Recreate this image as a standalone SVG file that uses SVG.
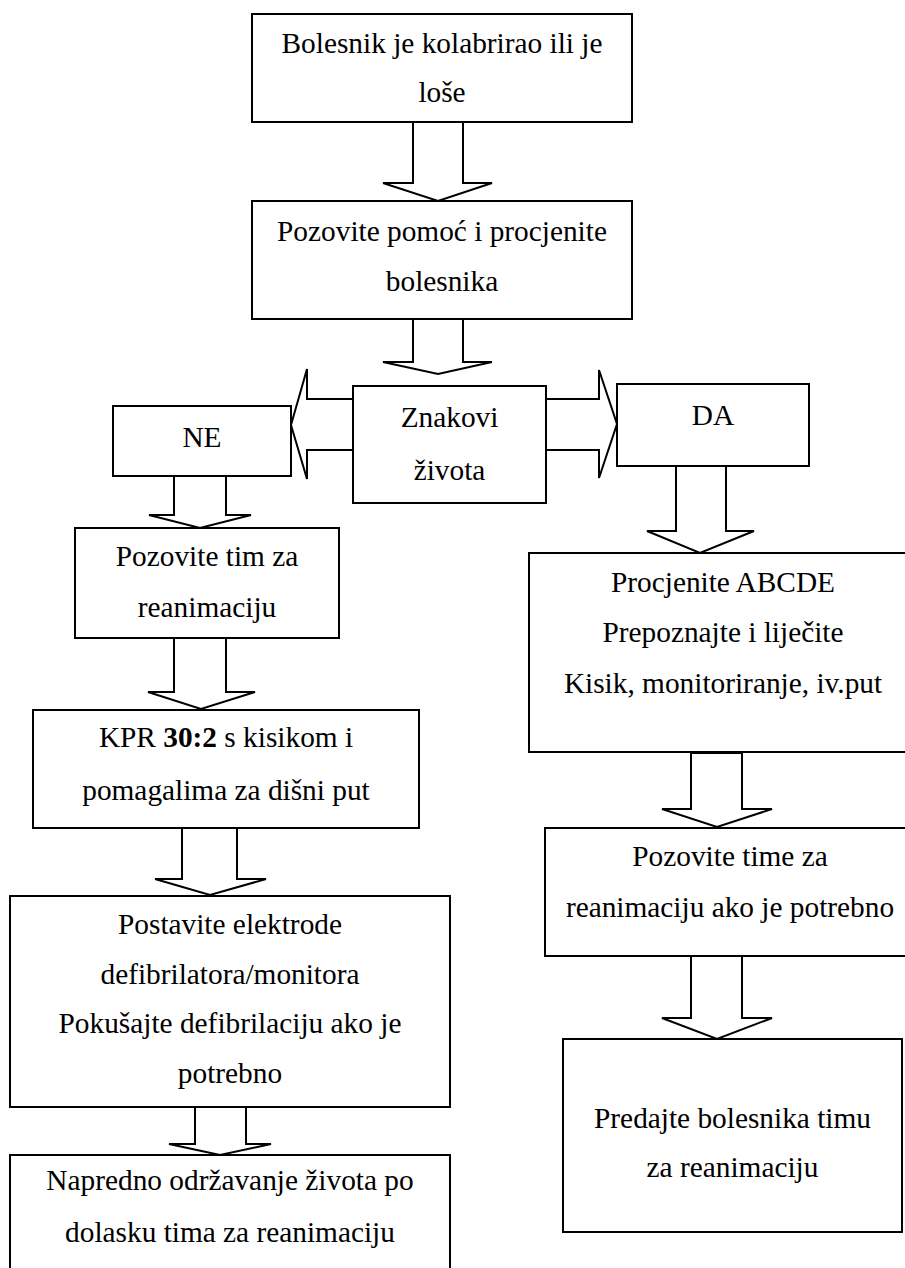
<svg xmlns="http://www.w3.org/2000/svg" width="905" height="1268" viewBox="0 0 905 1268">
<style>
.box{fill:#fff;stroke:#000;stroke-width:2}
.arr{fill:#fff;stroke:#000;stroke-width:2;stroke-linejoin:miter}
text{font-family:"Liberation Serif","Times New Roman",serif;font-size:29.33px;fill:#000;text-anchor:middle}
</style>
<rect width="905" height="1268" fill="#fff"/>
<g id="connectors">
<polygon class="arr" points="413,122 463,122 463,183 492,183 438,201 383,183 413,183"/>
<polygon class="arr" points="413,319 463,319 463,362 492,362 438,374 383,362 413,362"/>
<polygon class="arr" points="353,399 307,399 307,369 291,425 307,479 307,450 353,450"/>
<polygon class="arr" points="546,399 599,399 599,370 617,424 599,478 599,450 546,450"/>
<polygon class="arr" points="174,476 226,476 226,515 251,515 200,528 149,515 174,515"/>
<polygon class="arr" points="174,638 226,638 226,692 255,692 201,709 148,692 174,692"/>
<polygon class="arr" points="182,828 237,828 237,879 266,879 210,895 155,879 182,879"/>
<polygon class="arr" points="195,1107 246,1107 246,1144 271,1144 220,1155 169,1144 195,1144"/>
<polygon class="arr" points="676,466 726,466 726,531 754,531 700,553 647,531 676,531"/>
<polygon class="arr" points="691,753 742,753 742,809 772,809 717,827 662,809 691,809"/>
<polygon class="arr" points="691,956 742,956 742,1018 772,1018 717,1039 662,1018 691,1018"/>
</g>
<g id="n1"><rect class="box" x="252" y="14" width="380" height="108"/><text x="442" y="53">Bolesnik je kolabrirao ili je</text><text x="442" y="102">loše</text></g>
<g id="n2"><rect class="box" x="252" y="201" width="380" height="118"/><text x="442" y="241">Pozovite pomoć i procjenite</text><text x="442" y="291">bolesnika</text></g>
<g id="n3"><rect class="box" x="353" y="386" width="193" height="117"/><text x="449.5" y="427">Znakovi</text><text x="449.5" y="480">života</text></g>
<g id="n4"><rect class="box" x="113" y="406" width="178" height="70"/><text x="202" y="447">NE</text></g>
<g id="n5"><rect class="box" x="617" y="384" width="192" height="82"/><text x="713" y="425">DA</text></g>
<g id="n6"><rect class="box" x="75" y="528" width="264" height="110"/><text x="207" y="566">Pozovite tim za</text><text x="207" y="617">reanimaciju</text></g>
<g id="n7"><rect class="box" x="33" y="710" width="386" height="118"/><text x="226" y="747">KPR <tspan font-weight="bold">30:2</tspan> s kisikom i</text><text x="226" y="800">pomagalima za dišni put</text></g>
<g id="n8"><rect class="box" x="10" y="896" width="440" height="211"/><text x="230" y="934">Postavite elektrode</text><text x="230" y="984">defibrilatora/monitora</text><text x="230" y="1033">Pokušajte defibrilaciju ako je</text><text x="230" y="1083">potrebno</text></g>
<g id="n9"><rect class="box" x="10" y="1155" width="440" height="130"/><text x="230" y="1190">Napredno održavanje života po</text><text x="230" y="1242">dolasku tima za reanimaciju</text></g>
<g id="n10"><rect class="box" x="529" y="553" width="388" height="199"/><text x="723" y="592">Procjenite ABCDE</text><text x="723" y="642">Prepoznajte i liječite</text><text x="723" y="693">Kisik, monitoriranje, iv.put</text></g>
<g id="n11"><rect class="box" x="545" y="828" width="370" height="128"/><text x="730" y="866">Pozovite time za</text><text x="730" y="917">reanimaciju ako je potrebno</text></g>
<g id="n12"><rect class="box" x="563" y="1039" width="339" height="193"/><text x="732.5" y="1128">Predajte bolesnika timu</text><text x="732.5" y="1177">za reanimaciju</text></g>
</svg>
